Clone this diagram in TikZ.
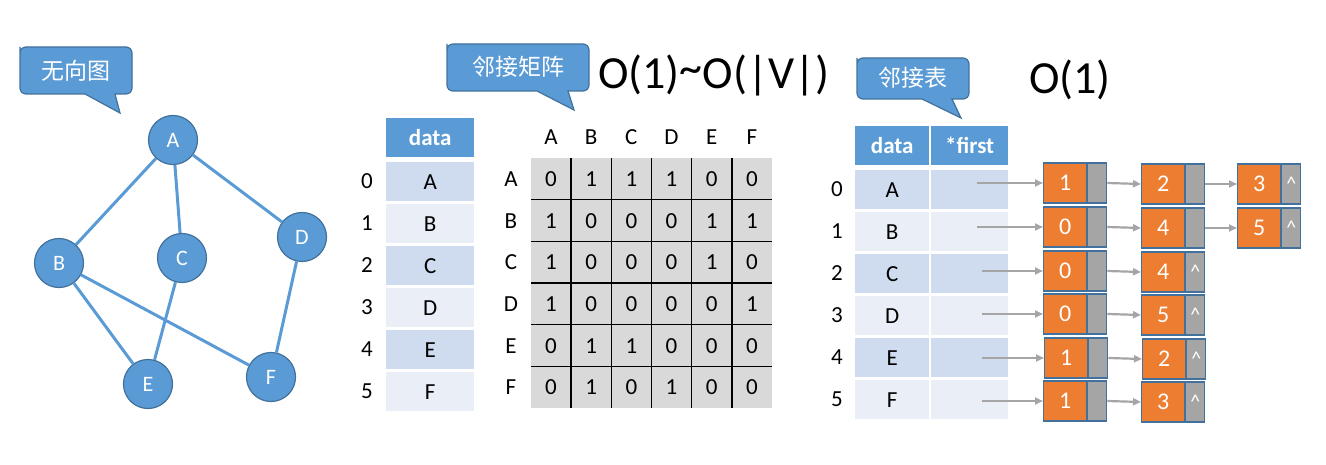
\documentclass[tikz,border=0pt]{standalone}
\usepackage{fontspec}
\setmainfont{Carlito}
\newfontfamily\cjk{Noto Sans CJK SC}
\usetikzlibrary{arrows.meta}
\definecolor{blu}{RGB}{91,155,213}
\definecolor{bdr}{RGB}{65,113,156}
\definecolor{rowA}{RGB}{207,219,238}
\definecolor{rowB}{RGB}{233,238,247}
\definecolor{org}{RGB}{237,125,49}
\definecolor{gry}{RGB}{165,165,165}
\definecolor{mgry}{RGB}{217,217,217}
\begin{document}
\begin{tikzpicture}[x=1pt,y=-1pt,
  gnode/.style={circle, fill=blu, draw=bdr, line width=1.2pt, minimum size=49pt, inner sep=0pt, text=white, font=\fontsize{22}{22}\selectfont},
  gedge/.style={draw=blu, line width=3pt},
  callout/.style={fill=blu, draw=bdr, line width=1.2pt},
  ctext/.style={text=white, font=\cjk\fontsize{23}{23}\selectfont},
  big/.style={font=\fontsize{46}{46}\selectfont, inner sep=0pt},
  lbl/.style={font=\fontsize{23}{23}\selectfont, inner sep=0pt},
  hdr/.style={fill=blu, text=white, font=\bfseries\fontsize{23}{23}\selectfont, inner sep=0pt, anchor=north west},
  cellA/.style={fill=rowA, font=\fontsize{23}{23}\selectfont, inner sep=0pt, anchor=north west},
  cellB/.style={fill=rowB, font=\fontsize{23}{23}\selectfont, inner sep=0pt, anchor=north west},
  onode/.style={draw=bdr, line width=1.2pt, fill=org, minimum width=43pt, minimum height=40pt, inner sep=0pt, text=white, font=\fontsize{24}{24}\selectfont, anchor=west},
  gbox/.style={draw=bdr, line width=1.2pt, fill=gry, minimum width=19pt, minimum height=40pt, inner sep=0pt, anchor=west, text=white, font=\fontsize{20}{20}\selectfont},
  arr/.style={draw=gry, line width=2.2pt, -{Triangle[length=8pt,width=7pt]}}
]
\useasboundingbox (0,0) rectangle (1326,465);

% ---------- graph ----------
\draw[callout] (20,53) [rounded corners=6pt] -- (20,47) -- (132,47) -- (132,94) [sharp corners] -- (115,94) -- (120,113) -- (85,94) [rounded corners=6pt] -- (20,94) -- cycle;
\node[ctext] (t1) at (76,71) {无向图};

\node[gnode] (A) at (173,140) {A};
\node[gnode] (B) at (59,263) {B};
\node[gnode] (C) at (182,258) {C};
\node[gnode] (D) at (302,237) {D};
\node[gnode] (E) at (148,384) {E};
\node[gnode] (F) at (271,377) {F};
\draw[gedge] (A) -- (B);
\draw[gedge] (A) -- (C);
\draw[gedge] (A) -- (D);
\draw[gedge] (B) -- (E);
\draw[gedge] (B) -- (F);
\draw[gedge] (C) -- (E);
\draw[gedge] (D) -- (F);

% ---------- adjacency matrix ----------
\draw[callout] (447,50) [rounded corners=6pt] -- (447,44) -- (589,44) -- (589,91) [sharp corners] -- (568,91) -- (574,110) -- (537,91) [rounded corners=6pt] -- (447,91) -- cycle;
\node[ctext] (t2) at (518,67) {邻接矩阵};
\node[big, anchor=west] (o2) at (598,75) {O(1)\raisebox{5pt}{\textasciitilde}O(|V|)};

\node[hdr, minimum width=88pt, minimum height=39pt] (h1) at (386,118) {data};
\foreach \i/\L in {0/A,1/B,2/C,3/D,4/E,5/F}{
  \pgfmathtruncatemacro{\ev}{mod(\i,2)}
  \ifnum\ev=0
    \node[cellA, minimum width=88pt, minimum height=39pt] (d\i) at (386,162+42*\i) {\L};
  \else
    \node[cellB, minimum width=88pt, minimum height=39pt] (d\i) at (386,162+42*\i) {\L};
  \fi
  \node[lbl] (i\i) at (367,181.5+42*\i) {\i};
}

\fill[mgry] (531,158) rectangle (772,408);
\foreach \j in {1,...,5}{
  \draw[black, line width=1.4pt] (531+40.167*\j,158) -- (531+40.167*\j,408);
  \draw[black, line width=1.4pt] (531,158+41.667*\j) -- (772,158+41.667*\j);
}
\foreach \L [count=\j from 0] in {A,B,C,D,E,F}{
  \node[lbl] (cl\j) at (551+40.167*\j,137) {\L};
  \node[lbl] (rl\j) at (511,179+41.667*\j) {\L};
}
\foreach \row [count=\i from 0] in {{0,1,1,1,0,0},{1,0,0,0,1,1},{1,0,0,0,1,0},{1,0,0,0,0,1},{0,1,1,0,0,0},{0,1,0,1,0,0}}{
  \foreach \v [count=\j from 0] in \row{
    \node[lbl] (m\i\j) at (551+40.167*\j,179+41.667*\i) {\v};
  }
}

% ---------- adjacency list ----------
\draw[callout] (857,64) [rounded corners=6pt] -- (857,58) -- (969,58) -- (969,99) [sharp corners] -- (952,99) -- (961,118) -- (922,99) [rounded corners=6pt] -- (857,99) -- cycle;
\node[ctext] (t3) at (913,78) {邻接表};
\node[big, anchor=west] (o3) at (1029,80) {O(1)};

\node[hdr, minimum width=74pt, minimum height=39pt] (h2) at (855,126) {data};
\node[hdr, minimum width=77pt, minimum height=39pt] (h3) at (931,126) {*first};
\foreach \i/\L in {0/A,1/B,2/C,3/D,4/E,5/F}{
  \pgfmathtruncatemacro{\ev}{mod(\i,2)}
  \ifnum\ev=0
    \node[cellA, minimum width=74pt, minimum height=39pt] (e\i) at (855,170+42*\i) {\L};
    \node[cellA, minimum width=77pt, minimum height=39pt] (f\i) at (931,170+42*\i) {};
  \else
    \node[cellB, minimum width=74pt, minimum height=39pt] (e\i) at (855,170+42*\i) {\L};
    \node[cellB, minimum width=77pt, minimum height=39pt] (f\i) at (931,170+42*\i) {};
  \fi
  \node[lbl] (j\i) at (837,189.5+42*\i) {\i};
}

% row 0
\node[onode] (a0) at (1043,183) {1}; \node[gbox] (p0) at (a0.east) {};
\node[onode] (b0) at (1141,184) {2}; \node[gbox] (q0) at (b0.east) {};
\node[onode] (c0) at (1237,184) {3}; \node[gbox] (r0) at (c0.east) {\vphantom{0}\textasciicircum};
% row 1
\node[onode] (a1) at (1043,227) {0}; \node[gbox] (p1) at (a1.east) {};
\node[onode] (b1) at (1141,228) {4}; \node[gbox] (q1) at (b1.east) {};
\node[onode] (c1) at (1237,228) {5}; \node[gbox] (r1) at (c1.east) {\vphantom{0}\textasciicircum};
% row 2
\node[onode] (a2) at (1043,271) {0}; \node[gbox] (p2) at (a2.east) {};
\node[onode] (b2) at (1141,272) {4}; \node[gbox] (q2) at (b2.east) {\vphantom{0}\textasciicircum};
% row 3
\node[onode] (a3) at (1043,314) {0}; \node[gbox] (p3) at (a3.east) {};
\node[onode] (b3) at (1141,315) {5}; \node[gbox] (q3) at (b3.east) {\vphantom{0}\textasciicircum};
% row 4
\node[onode] (a4) at (1044,358) {1}; \node[gbox] (p4) at (a4.east) {};
\node[onode] (b4) at (1142,359) {2}; \node[gbox] (q4) at (b4.east) {\vphantom{0}\textasciicircum};
% row 5
\node[onode] (a5) at (1043,401) {1}; \node[gbox] (p5) at (a5.east) {};
\node[onode] (b5) at (1141,402) {3}; \node[gbox] (q5) at (b5.east) {\vphantom{0}\textasciicircum};

\coordinate (s0) at (977,183);
\coordinate (s1) at (977,227);
\coordinate (s2) at (982,271);
\coordinate (s3) at (982,314);
\coordinate (s4) at (982,358);
\coordinate (s5) at (982,401);
\foreach \i in {0,...,5}{
  \draw[arr] (s\i) -- (a\i.west);
  \draw[arr] (p\i.east) -- (b\i.west);
}
\draw[arr] (q0.east) -- (c0.west);
\draw[arr] (q1.east) -- (c1.west);
\end{tikzpicture}
\end{document}
